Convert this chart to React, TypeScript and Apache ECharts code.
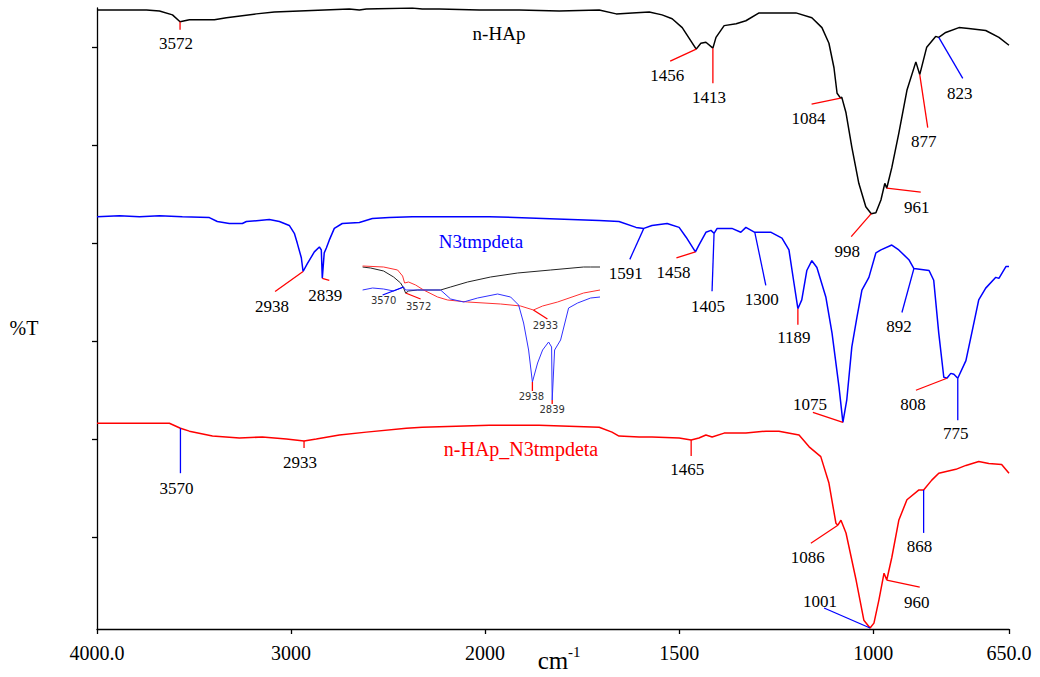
import { useEffect, useRef } from 'react';
import * as echarts from 'echarts';

// Piecewise wavenumber scale: 4000-2000 compressed, 2000-650 doubled
function xPos(w: number): number {
  return w >= 2000 ? 4000 - w : 2000 + 2 * (2000 - w);
}

const X_TICKS = [4000, 3000, 2000, 1500, 1000, 650];
const X_TICK_LABELS = ['4000.0', '3000', '2000', '1500', '1000', '650.0'];
const Y_TICKS = [10, 20, 30, 40, 50, 60];
const Y_MIN = 0.6;
const Y_MAX = 64;

// n-HAp (black)
const HAP: [number, number][] = [
  [4000, 63.8], [3745, 63.8], [3678, 63.7], [3611, 63.3], [3572, 62.6], [3524, 62.8], [3395, 62.8],
  [3333, 63.0], [3179, 63.4], [3086, 63.6], [2957, 63.7], [2700, 63.9], [2648, 63.8], [2612, 63.9],
  [2375, 64.0], [2324, 63.9], [2236, 63.9], [2030, 63.8], [1912, 63.8], [1809, 63.7], [1706, 63.8],
  [1662, 63.4], [1621, 63.5], [1577, 63.6], [1544, 63.3], [1518, 62.9], [1492, 62.0], [1474, 60.9],
  [1456, 59.8], [1444, 60.4], [1431, 60.5], [1413, 59.9], [1405, 61.0], [1384, 62.2], [1353, 62.4],
  [1328, 62.7], [1294, 63.5], [1199, 63.5], [1158, 63.0], [1132, 62.0], [1114, 60.4], [1101, 57.9],
  [1093, 55.3], [1084, 54.8], [1081, 54.9], [1070, 53.3], [1055, 49.8], [1037, 46.1], [1019, 43.7],
  [1005, 43.0], [993, 43.1], [980, 44.4], [970, 46.1], [965, 45.6], [952, 47.7], [934, 51.2],
  [913, 55.6], [890, 58.5], [880, 57.2], [862, 60.0], [839, 61.1], [831, 61.0], [813, 61.5],
  [779, 62.0], [754, 61.9], [710, 61.7], [676, 61.0], [650, 60.2],
];

// N3tmpdeta (blue)
const N3: [number, number][] = [
  [4000, 42.7], [3884, 42.8], [3781, 42.7], [3678, 42.8], [3560, 42.7], [3421, 42.6], [3380, 42.2],
  [3318, 42.0], [3251, 42.0], [3230, 42.2], [3112, 42.4], [3060, 42.2], [3009, 41.8], [2983, 41.0],
  [2968, 40.0], [2947, 38.5], [2938, 37.1], [2916, 37.9], [2880, 39.1], [2854, 39.6], [2844, 39.3],
  [2839, 36.4], [2829, 39.0], [2818, 39.5], [2803, 40.3], [2777, 41.5], [2736, 42.0], [2648, 42.1],
  [2581, 42.5], [2494, 42.6], [2375, 42.7], [2149, 42.7], [1989, 42.7], [1706, 42.3], [1655, 42.2],
  [1611, 41.6], [1591, 41.5], [1570, 41.8], [1531, 42.0], [1500, 41.6], [1482, 40.6], [1458, 39.1],
  [1449, 39.8], [1431, 41.1], [1418, 41.3], [1410, 41.0], [1402, 41.5], [1364, 41.5], [1341, 41.1],
  [1328, 41.6], [1305, 41.1], [1263, 41.1], [1235, 40.5], [1217, 39.3], [1204, 35.9], [1194, 33.3],
  [1184, 34.2], [1171, 37.2], [1158, 38.2], [1145, 37.5], [1122, 34.5], [1106, 30.8], [1088, 25.3],
  [1078, 21.7], [1068, 24.0], [1055, 29.4], [1042, 32.4], [1029, 35.2], [1011, 36.5], [993, 39.0],
  [980, 39.3], [952, 39.8], [934, 39.3], [908, 38.3], [895, 37.4], [856, 37.2], [844, 36.2],
  [831, 30.8], [818, 26.3], [810, 26.2], [800, 26.7], [792, 26.6], [782, 26.2], [761, 28.0],
  [746, 30.8], [728, 34.2], [710, 35.4], [684, 36.5], [676, 36.4], [658, 37.6], [650, 37.6],
];

// n-HAp_N3tmpdeta (red)
const HAP_N3: [number, number][] = [
  [4000, 21.6], [3627, 21.6], [3570, 21.1], [3524, 20.8], [3405, 20.3], [3266, 20.1], [3148, 20.2],
  [3024, 20.0], [2933, 19.8], [2870, 20.0], [2751, 20.4], [2612, 20.7], [2406, 21.1], [2324, 21.2],
  [2149, 21.3], [1989, 21.4], [1861, 21.4], [1706, 21.2], [1673, 20.7], [1655, 20.3], [1603, 20.2],
  [1570, 20.2], [1500, 20.1], [1469, 19.9], [1449, 20.1], [1431, 20.4], [1415, 20.2], [1384, 20.6],
  [1328, 20.6], [1276, 20.8], [1243, 20.8], [1191, 20.4], [1165, 19.2], [1135, 18.2], [1114, 15.5],
  [1096, 11.4], [1091, 11.2], [1083, 11.7], [1070, 10.4], [1044, 5.6], [1024, 1.5], [1008, 0.7],
  [998, 1.2], [985, 3.6], [972, 6.3], [965, 5.6], [952, 7.9], [934, 11.7], [913, 13.8], [882, 14.8],
  [870, 14.8], [849, 15.8], [831, 16.5], [787, 16.9], [761, 17.3], [728, 17.7], [702, 17.5],
  [669, 17.4], [650, 16.5],
];

// Inset (3790-2600 cm-1 zoom), arbitrary units
const INSET_HAP: [number, number][] = [
  [3787, 13.5], [3747, 13.4], [3682, 13.1], [3632, 12.5], [3597, 11.9], [3582, 11.4], [3572, 10.9],
  [3557, 11.1], [3512, 11.2], [3397, 11.2], [3347, 11.5], [3262, 12.0], [3147, 12.5], [3012, 12.9],
  [2847, 13.2], [2682, 13.5], [2647, 13.5], [2600, 13.5],
];
const INSET_HAP_N3: [number, number][] = [
  [3787, 13.6], [3682, 13.5], [3612, 13.2], [3587, 12.6], [3577, 11.9], [3557, 12.0], [3522, 11.7],
  [3482, 11.2], [3412, 10.5], [3362, 10.2], [3262, 10.0], [3097, 9.8], [2997, 9.6], [2933, 9.2],
  [2887, 9.6], [2812, 10.0], [2682, 10.9], [2600, 11.2],
];
const INSET_N3: [number, number][] = [
  [3787, 11.2], [3737, 11.4], [3682, 11.3], [3632, 11.1], [3582, 11.5], [3572, 11.2], [3397, 11.2],
  [3347, 10.3], [3282, 10.0], [3212, 10.4], [3112, 10.8], [3047, 10.5], [3007, 9.7], [2982, 7.9],
  [2957, 5.2], [2938, 2.0], [2912, 3.9], [2887, 5.2], [2857, 6.0], [2842, 5.5], [2839, 0.2],
  [2827, 5.2], [2812, 5.7], [2797, 6.2], [2757, 9.4], [2712, 9.9], [2647, 10.4], [2600, 10.5],
];

// Peak annotations: [label, anchor wavenumber, leader dx, leader dy, label dx, label dy, leader colour]
type Ann = [string, number, number, number, number, number, string];
const HAP_PEAKS: Ann[] = [
  ['3572', 3572, 0, 8, -4, 22, 'r'],
  ['1456', 1456, -26, 12, -29, 26, 'r'],
  ['1413', 1413, 0, 35, -4, 49, 'r'],
  ['1084', 1084, -29, 6, -32, 20, 'r'],
  ['998', 1005, -20, 23, -24, 38, 'r'],
  ['961', 965, 34, 4, 30, 19, 'r'],
  ['877', 880, 8, 53, 4, 67, 'r'],
  ['823', 831, 24, 41, 21, 56, 'b'],
];
const N3_PEAKS: Ann[] = [
  ['2938', 2938, -28, 20, -31, 35, 'r'],
  ['2839', 2839, 7, 2, 3, 17, 'r'],
  ['1591', 1591, -14, 31, -18, 45, 'b'],
  ['1458', 1458, -19, 6, -22, 21, 'r'],
  ['1405', 1410, -2, 58, -6, 73, 'b'],
  ['1300', 1305, 11, 53, 7, 67, 'b'],
  ['1189', 1194, 0, 16, -4, 29, 'r'],
  ['1075', 1078, -30, -10, -33, -18, 'r'],
  ['892', 895, -12, 44, -15, 58, 'b'],
  ['808', 810, -31, 12, -34, 26, 'r'],
  ['775', 782, 0, 42, -2, 55, 'b'],
];
const HAP_N3_PEAKS: Ann[] = [
  ['3570', 3570, 0, 45, -4, 60, 'b'],
  ['2933', 2933, 0, 7, -4, 22, 'r'],
  ['1465', 1469, 0, 16, -4, 30, 'r'],
  ['1086', 1091, -27, 18, -30, 32, 'r'],
  ['1001', 1008, -46, -20, -50, -27, 'b'],
  ['960', 965, 33, 7, 30, 22, 'r'],
  ['868', 870, 0, 43, -4, 57, 'b'],
];
const INSET_HAP_PEAKS: Ann[] = [['3572', 3572, 15, 6, 13, 13, 'r']];
const INSET_N3_PEAKS: Ann[] = [
  ['3570', 3582, -21, 8, -20, 13, 'b'],
  ['2938', 2938, 0, 9, -1, 14, 'r'],
  ['2839', 2839, 0, 4, 0, 9, 'r'],
];
const INSET_HAP_N3_PEAKS: Ann[] = [['2933', 2933, 14, 9, 12, 15, 'r']];

const SERIF = 'Liberation Serif';
const SANS = 'DejaVu Sans';
const COLORS: Record<string, string> = { r: '#ff0000', b: '#0000ff' };

function lineSeries(data: [number, number][], color: string, axis: number, width: number) {
  return {
    type: 'line',
    xAxisIndex: axis,
    yAxisIndex: axis,
    data: data.map(([w, t]) => [axis === 0 ? xPos(w) : w, t]),
    showSymbol: false,
    symbol: 'none',
    silent: true,
    lineStyle: { color, width },
    itemStyle: { color },
    z: 3,
  };
}

function annSeries(anns: Ann[], data: [number, number][], axis: number, fontSize: number, family: string, textColor: string) {
  const pts = anns.map((a) => {
    const p = data.find((d) => d[0] === a[1]) as [number, number];
    return [axis === 0 ? xPos(p[0]) : p[0], p[1]];
  });
  return {
    type: 'custom',
    xAxisIndex: axis,
    yAxisIndex: axis,
    data: pts,
    silent: true,
    clip: false,
    z: 10,
    encode: { x: 0, y: 1 },
    renderItem: (params: any, api: any) => {
      const a = anns[params.dataIndex];
      const p = api.coord([api.value(0), api.value(1)]);
      return {
        type: 'group',
        children: [
          {
            type: 'line',
            shape: { x1: p[0], y1: p[1], x2: p[0] + a[2], y2: p[1] + a[3] },
            style: { stroke: COLORS[a[6]], lineWidth: 1.3 },
          },
          {
            type: 'text',
            x: p[0] + a[4],
            y: p[1] + a[5],
            style: {
              text: a[0],
              fill: textColor,
              fontSize,
              fontFamily: family,
              align: 'center',
              verticalAlign: 'middle',
            },
          },
        ],
      };
    },
  };
}

// Tick labels drawn at the axis' own tick positions (serif font)
function tickLabelSeries() {
  return {
    type: 'custom',
    xAxisIndex: 0,
    yAxisIndex: 0,
    data: X_TICKS.map((w) => [xPos(w), Y_MIN]),
    silent: true,
    clip: false,
    z: 10,
    encode: { x: 0, y: 1 },
    renderItem: (params: any, api: any) => {
      const p = api.coord([api.value(0), api.value(1)]);
      return {
        type: 'text',
        x: p[0],
        y: p[1] + 24,
        style: {
          text: X_TICK_LABELS[params.dataIndex],
          fill: '#000',
          fontSize: 20,
          fontFamily: SERIF,
          align: 'center',
          verticalAlign: 'middle',
        },
      };
    },
  };
}

export default function App() {
  const ref = useRef<HTMLDivElement>(null);
  useEffect(() => {
    if (!ref.current) return;
    const chart = echarts.init(ref.current, null, { renderer: 'svg' });
    const tickVals = X_TICKS.map(xPos);
    chart.setOption({
      animation: false,
      backgroundColor: '#ffffff',
      textStyle: { fontFamily: SERIF },
      grid: [
        { left: 97, right: 31, top: 8, bottom: 48 },
        { left: 362, top: 262, width: 238, height: 140 },
      ],
      xAxis: [
        {
          type: 'value',
          gridIndex: 0,
          min: 0,
          max: 4700,
          splitLine: { show: false },
          axisLine: { show: true, onZero: false, lineStyle: { color: '#000', width: 1.3 } },
          axisTick: { show: true, customValues: tickVals, length: 5, lineStyle: { color: '#000', width: 1.3 } },
          axisLabel: { show: false },
        },
        { type: 'value', gridIndex: 1, min: 2600, max: 3790, inverse: true, show: false },
      ],
      yAxis: [
        {
          type: 'value',
          gridIndex: 0,
          min: Y_MIN,
          max: Y_MAX,
          splitLine: { show: false },
          axisLine: { show: true, onZero: false, lineStyle: { color: '#000', width: 1.3 } },
          axisTick: { show: true, customValues: Y_TICKS, length: 5, lineStyle: { color: '#000', width: 1.3 } },
          axisLabel: { show: false },
        },
        { type: 'value', gridIndex: 1, min: 0, max: 14, show: false },
      ],
      graphic: [
        { type: 'text', x: 24, y: 328, style: { text: '%T', fill: '#000', fontSize: 20, fontFamily: SERIF, align: 'center', verticalAlign: 'middle' } },
        { type: 'text', x: 553, y: 660, style: { text: 'cm', fill: '#000', fontSize: 25, fontFamily: SERIF, align: 'center', verticalAlign: 'middle' } },
        { type: 'text', x: 568, y: 652, style: { text: '-1', fill: '#000', fontSize: 15, fontFamily: SERIF, align: 'left', verticalAlign: 'middle' } },
        { type: 'text', x: 499, y: 33, style: { text: 'n-HAp', fill: '#000', fontSize: 19, fontFamily: SERIF, align: 'center', verticalAlign: 'middle' } },
        { type: 'text', x: 481, y: 241, style: { text: 'N3tmpdeta', fill: '#0000ff', fontSize: 19, fontFamily: SERIF, align: 'center', verticalAlign: 'middle' } },
        { type: 'text', x: 521, y: 449, style: { text: 'n-HAp_N3tmpdeta', fill: '#ff0000', fontSize: 20, fontFamily: SERIF, align: 'center', verticalAlign: 'middle' } },
      ],
      series: [
        lineSeries(HAP, '#000000', 0, 1.5),
        lineSeries(N3, '#0000ff', 0, 1.5),
        lineSeries(HAP_N3, '#ff0000', 0, 1.5),
        lineSeries(INSET_HAP, '#222222', 1, 1),
        lineSeries(INSET_HAP_N3, '#ff3030', 1, 1),
        lineSeries(INSET_N3, '#3030ff', 1, 1),
        annSeries(HAP_PEAKS, HAP, 0, 17, SERIF, '#000'),
        annSeries(N3_PEAKS, N3, 0, 17, SERIF, '#000'),
        annSeries(HAP_N3_PEAKS, HAP_N3, 0, 17, SERIF, '#000'),
        annSeries(INSET_HAP_PEAKS, INSET_HAP, 1, 10, SANS, '#333'),
        annSeries(INSET_N3_PEAKS, INSET_N3, 1, 10, SANS, '#333'),
        annSeries(INSET_HAP_N3_PEAKS, INSET_HAP_N3, 1, 10, SANS, '#333'),
        tickLabelSeries(),
      ],
    });
    return () => chart.dispose();
  }, []);
  return <div ref={ref} style={{ position: 'fixed', left: 0, top: 0, width: 1040, height: 677 }} />;
}
